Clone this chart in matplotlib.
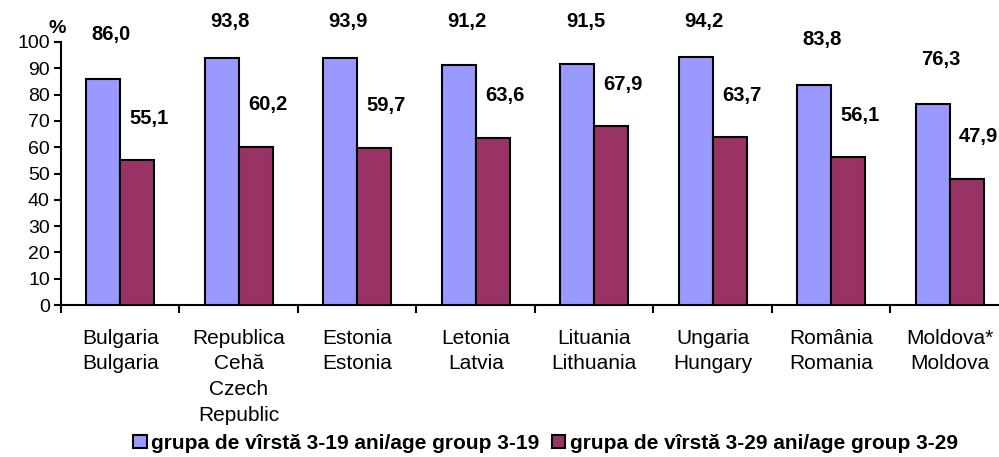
import numpy as np
import matplotlib

matplotlib.use("Agg")
import matplotlib.pyplot as plt
from matplotlib.patches import Patch

plt.rcParams.update({
    "font.family": ["Liberation Sans", "DejaVu Sans"],
    "font.size": 14,
})

countries = [
    "Bulgaria\nBulgaria",
    "Republica\nCehă\nCzech\nRepublic",
    "Estonia\nEstonia",
    "Letonia\nLatvia",
    "Lituania\nLithuania",
    "Ungaria\nHungary",
    "România\nRomania",
    "Moldova*\nMoldova",
]
age_3_19 = [86.0, 93.8, 93.9, 91.2, 91.5, 94.2, 83.8, 76.3]
age_3_29 = [55.1, 60.2, 59.7, 63.6, 67.9, 63.7, 56.1, 47.9]
legend_labels = ["grupa de vîrstă 3-19 ani/age group 3-19",
                 "grupa de vîrstă 3-29 ani/age group 3-29"]

BLUE = "#9999FF"
PLUM = "#993366"

fig = plt.figure(figsize=(9.99, 4.57), dpi=100)
ax = fig.add_axes([0.061, 0.3326, 0.949, 0.5755])

x = np.arange(len(countries))
w = 0.288
ax.bar(x - w / 2, age_3_19, w, color=BLUE, edgecolor="black", linewidth=1.5, zorder=3)
ax.bar(x + w / 2, age_3_29, w, color=PLUM, edgecolor="black", linewidth=1.5, zorder=3)


def fmt(v):
    return f"{v:.1f}".replace(".", ",")


for i, v in zip(x, age_3_19):
    ax.text(i - w / 2 + 0.07, min(v + 17, 107.8), fmt(v), ha="center", va="center",
            fontsize=14.5, fontweight="bold", clip_on=False)
for i, v in zip(x, age_3_29):
    ax.text(i + w / 2 + 0.1, v + 16, fmt(v), ha="center", va="center",
            fontsize=14.5, fontweight="bold", clip_on=False)

ax.set_xlim(-0.5, len(countries) - 0.5)
ax.set_ylim(0, 100)
ax.set_yticks(range(0, 101, 10))
ax.tick_params(axis="y", labelsize=14, direction="out", length=5, width=1.5, pad=3)
ax.set_xticks(x)
ax.set_xticklabels(countries, fontsize=15, linespacing=1.45, va="top")
ax.tick_params(axis="x", which="major", length=0, pad=17)
ax.set_xticks(np.arange(-0.5, len(countries), 1.0), minor=True)
ax.tick_params(axis="x", which="minor", direction="out", length=6, width=1.5)

for s in ("top", "right"):
    ax.spines[s].set_visible(False)
for s in ("left", "bottom"):
    ax.spines[s].set_linewidth(1.5)

fig.text(0.049, 0.938, "%", fontsize=14, fontweight="bold", ha="left", va="center")

handles = [Patch(facecolor=BLUE, edgecolor="black", linewidth=1.5),
           Patch(facecolor=PLUM, edgecolor="black", linewidth=1.5)]
fig.legend(handles, legend_labels, loc="center", bbox_to_anchor=(0.546, 0.03),
           ncol=2, frameon=False, prop={"weight": "bold", "size": 15},
           handlelength=0.65, handleheight=0.65, handletextpad=0.2, columnspacing=0.6,
           borderpad=0.1)

fig.savefig("out.png", dpi=100)
